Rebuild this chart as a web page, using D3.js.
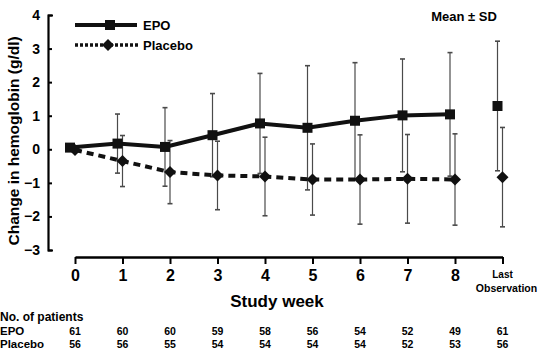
<!DOCTYPE html>
<html>
<head>
<meta charset="utf-8">
<script src="https://cdn.jsdelivr.net/npm/d3@7"></script>
<style>
  body { margin: 0; background: #fff; }
  svg { display: block; font-family: 'Liberation Sans', Arial, sans-serif; font-weight: bold; }
</style>
</head>
<body>
<div id="chart"></div>
<script>
// study weeks (9 = last observation)
const weeks = [0, 1, 2, 3, 4, 5, 6, 7, 8, 9];
const weekLabels = ['0', '1', '2', '3', '4', '5', '6', '7', '8', ''];

// mean change in hemoglobin (g/dl) and SD
const epoMean = [0.05, 0.17, 0.07, 0.42, 0.77, 0.64, 0.85, 1.01, 1.04, 1.29];
const epoSD = [0, 0.88, 1.17, 1.24, 1.49, 1.85, 1.73, 1.68, 1.84, 1.93];
const placeboMean = [-0.02, -0.35, -0.68, -0.78, -0.81, -0.9, -0.9, -0.88, -0.9, -0.83];
const placeboSD = [0, 0.76, 0.94, 1.02, 1.17, 1.06, 1.33, 1.32, 1.36, 1.48];

// number of patients per week
const epoN = [61, 60, 60, 59, 58, 56, 54, 52, 49, 61];
const placeboN = [56, 56, 55, 54, 54, 54, 54, 52, 53, 56];

const yTicks = [-3, -2, -1, 0, 1, 2, 3, 4];

const width = 541;
const height = 350;

const svg = d3.select('#chart')
  .append('svg')
  .attr('width', width)
  .attr('height', height);

const x = d3.scaleLinear().domain([0, 9]).range([75, 502.5]);
const y = d3.scaleLinear().domain([-3, 4]).range([250, 15]);

const epoShift = -5;    // EPO points sit a little left of the tick
const placeboShift = 0;

// Y axis (ticks point inward)
const yAxis = svg.append('g')
  .attr('transform', 'translate(48,0)')
  .call(d3.axisLeft(y).tickValues(yTicks).tickSizeInner(-4).tickSizeOuter(-5).tickPadding(8).tickFormat(d3.format('d')));
yAxis.select('.domain').attr('stroke-width', 2.2);
yAxis.selectAll('.tick line').attr('stroke-width', 2);
yAxis.selectAll('.tick text')
  .style('font-size', '14px')
  .style('font-weight', 'bold')
  .style('font-family', 'Liberation Sans, Arial, sans-serif');

svg.append('text')
  .attr('transform', 'translate(19,' + y(0.25) + ') rotate(-90)')
  .attr('text-anchor', 'middle')
  .style('font-size', '15.5px')
  .text('Change in hemoglobin (g/dl)');

// X axis
const xAxis = svg.append('g')
  .attr('transform', 'translate(0,257)')
  .call(d3.axisBottom(x).tickValues(weeks).tickSizeInner(7).tickSizeOuter(0).tickPadding(6)
    .tickFormat(function (d, i) { return weekLabels[i]; }));
xAxis.select('.domain').attr('stroke-width', 2.5);
xAxis.selectAll('.tick line').attr('stroke-width', 2);
xAxis.selectAll('.tick text')
  .style('font-size', '16px')
  .style('font-weight', 'bold')
  .style('font-family', 'Liberation Sans, Arial, sans-serif');

// two-line label for the last observation tick
svg.append('text')
  .attr('x', x(9))
  .attr('y', 278)
  .attr('text-anchor', 'middle')
  .style('font-size', '10px')
  .text('Last');
svg.append('text')
  .attr('x', x(9) + 4)
  .attr('y', 292)
  .attr('text-anchor', 'middle')
  .style('font-size', '10.5px')
  .text('Observation');

svg.append('text')
  .attr('x', 277)
  .attr('y', 307)
  .attr('text-anchor', 'middle')
  .style('font-size', '17px')
  .text('Study week');

// Error bars
function errorBars(mean, sd, shift) {
  const data = weeks.map(function (w, i) { return { w: w, m: mean[i], s: sd[i] }; })
    .filter(function (d) { return d.s > 0; });
  const g = svg.append('g')
    .attr('stroke', '#4a4a4a')
    .attr('stroke-width', 1.2);
  g.selectAll('.bar')
    .data(data)
    .enter()
    .append('line')
    .attr('x1', function (d) { return x(d.w) + shift; })
    .attr('x2', function (d) { return x(d.w) + shift; })
    .attr('y1', function (d) { return y(d.m - d.s); })
    .attr('y2', function (d) { return y(d.m + d.s); });
  ['lo', 'hi'].forEach(function (side) {
    g.selectAll('.cap' + side)
      .data(data)
      .enter()
      .append('line')
      .attr('x1', function (d) { return x(d.w) + shift - 2.5; })
      .attr('x2', function (d) { return x(d.w) + shift + 2.5; })
      .attr('y1', function (d) { return y(side === 'lo' ? d.m - d.s : d.m + d.s); })
      .attr('y2', function (d) { return y(side === 'lo' ? d.m - d.s : d.m + d.s); })
      .attr('stroke-width', 1.6);
  });
}
errorBars(placeboMean, placeboSD, placeboShift);
errorBars(epoMean, epoSD, epoShift);

// Lines (weeks 0-8 only, last observation not joined)
const lineFor = function (shift) {
  return d3.line()
    .x(function (d) { return x(d.w) + shift; })
    .y(function (d) { return y(d.m); });
};
const epoPts = weeks.map(function (w, i) { return { w: w, m: epoMean[i] }; });
const placeboPts = weeks.map(function (w, i) { return { w: w, m: placeboMean[i] }; });

svg.append('path')
  .datum(placeboPts.slice(0, 9))
  .attr('d', lineFor(placeboShift))
  .attr('fill', 'none')
  .attr('stroke', '#111')
  .attr('stroke-width', 4)
  .attr('stroke-dasharray', '7,5');

svg.append('path')
  .datum(epoPts.slice(0, 9))
  .attr('d', lineFor(epoShift))
  .attr('fill', 'none')
  .attr('stroke', '#111')
  .attr('stroke-width', 4);

// Markers
const square = d3.symbol(d3.symbolSquare, 100);
const diamond = d3.symbol(d3.symbolSquare, 72);

svg.selectAll('.placeboPt')
  .data(placeboPts)
  .enter()
  .append('path')
  .attr('d', diamond)
  .attr('transform', function (d) { return 'translate(' + (x(d.w) + placeboShift) + ',' + y(d.m) + ') rotate(45)'; })
  .attr('fill', '#111');

svg.selectAll('.epoPt')
  .data(epoPts)
  .enter()
  .append('path')
  .attr('d', square)
  .attr('transform', function (d) { return 'translate(' + (x(d.w) + epoShift) + ',' + y(d.m) + ')'; })
  .attr('fill', '#111');

// Legend
const legend = svg.append('g');
legend.append('line')
  .attr('x1', 75).attr('x2', 137).attr('y1', 25).attr('y2', 25)
  .attr('stroke', '#111').attr('stroke-width', 4);
legend.append('path')
  .attr('d', square)
  .attr('transform', 'translate(110,25)')
  .attr('fill', '#111');
legend.append('text')
  .attr('x', 143).attr('y', 30)
  .style('font-size', '13px')
  .text('EPO');

legend.append('line')
  .attr('x1', 75).attr('x2', 140).attr('y1', 45).attr('y2', 45)
  .attr('stroke', '#111').attr('stroke-width', 3.5)
  .attr('stroke-dasharray', '3,2');
legend.append('path')
  .attr('d', diamond)
  .attr('transform', 'translate(108,45) rotate(45)')
  .attr('fill', '#111');
legend.append('text')
  .attr('x', 143).attr('y', 50)
  .style('font-size', '13px')
  .text('Placebo');

svg.append('text')
  .attr('x', 464).attr('y', 21)
  .attr('text-anchor', 'middle')
  .style('font-size', '13px')
  .text('Mean \u00b1 SD');

// Patient numbers table
const table = svg.append('g').style('font-size', '10.5px');
table.append('text').attr('x', 0).attr('y', 321).style('font-size', '12px').text('No. of patients');
table.append('text').attr('x', 0).attr('y', 335).style('font-size', '11.5px').text('EPO');
table.append('text').attr('x', 0).attr('y', 348).style('font-size', '11.5px').text('Placebo');

table.selectAll('.epoN')
  .data(epoN)
  .enter()
  .append('text')
  .attr('x', function (d, i) { return x(weeks[i]); })
  .attr('y', 335)
  .attr('text-anchor', 'middle')
  .text(function (d) { return d; });

table.selectAll('.placeboN')
  .data(placeboN)
  .enter()
  .append('text')
  .attr('x', function (d, i) { return x(weeks[i]); })
  .attr('y', 348)
  .attr('text-anchor', 'middle')
  .text(function (d) { return d; });
</script>
</body>
</html>
